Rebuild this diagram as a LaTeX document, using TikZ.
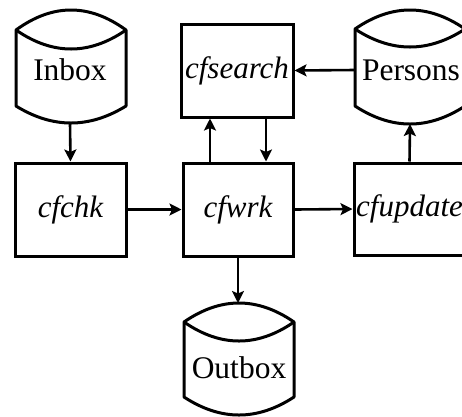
\documentclass[tikz,border=0pt]{standalone}
\usepackage{fontspec}
\setmainfont{Liberation Serif}
\usetikzlibrary{arrows.meta}
\newcommand\drumoutline[7]{% L R T B peak dip bot
  \draw[drumline] (#1,#3) .. controls ({#1+(#2-#1)/3},{#3-4/3*(#3-#5)}) and ({#2-(#2-#1)/3},{#3-4/3*(#3-#5)}) .. (#2,#3)
    -- (#2,#4) .. controls ({#2-(#2-#1)/3},{#4+4/3*(#7-#4)}) and ({#1+(#2-#1)/3},{#4+4/3*(#7-#4)}) .. (#1,#4) -- cycle;
  \draw[drumline] (#1,#3) .. controls ({#1+(#2-#1)/3},{#3+4/3*(#6-#3)}) and ({#2-(#2-#1)/3},{#3+4/3*(#6-#3)}) .. (#2,#3);
}
\begin{document}
\begin{tikzpicture}[x=1pt,y=-1pt,
  drumline/.style={line width=3pt,line join=round},
  proc/.style={draw,line width=3pt,rectangle,inner sep=0pt,font=\fontsize{31}{37}\selectfont\itshape},
  store/.style={inner sep=0pt,font=\fontsize{31.5}{37}\selectfont},
  arr/.style={line width=2.6pt,-{Stealth[length=12pt,width=12pt,inset=2.5pt]}}]
\useasboundingbox (0,0) rectangle (462,416);
% drums
\drumoutline{16}{126}{30}{106}{10}{49}{123}
\drumoutline{355}{465}{29}{106}{10}{47}{124}
\drumoutline{184}{294}{322}{397}{303}{341}{415}
\node[store] (inbox) at (70,70) {Inbox};
\node[store] (persons) at (411,70) {Persons};
\node[store] (outbox) at (239,368) {Outbox};
\coordinate (inbox-b) at (70,123);
\coordinate (persons-l) at (355,70);
\coordinate (persons-b) at (410,124);
\coordinate (outbox-t) at (238,303);
% processes
\node[proc,minimum width=111pt,minimum height=93pt] (cfchk) at (70.5,209.5) {cfchk};
\node[proc,minimum width=110pt,minimum height=93pt] (cfwrk) at (238,209.5) {cfwrk};
\node[proc,minimum width=112pt,minimum height=93pt] (cfsearch) at (237,70.5) {cfsearch};
\node[proc,minimum width=111pt,minimum height=92pt] (cfupdate) at (409.5,209) {cfupdate};
% connectors
\draw[arr] (inbox-b) -- (cfchk.north);
\draw[arr] (cfchk.east) -- (cfwrk.west);
\draw[arr] (cfwrk.east) -- (cfupdate.west);
\draw[arr] (persons-l) -- (cfsearch.east);
\draw[arr] ([xshift=-28pt]cfwrk.north) -- ([xshift=-27pt]cfsearch.south);
\draw[arr] ([xshift=29pt]cfsearch.south) -- ([xshift=28pt]cfwrk.north);
\draw[arr] (cfupdate.north) -- (persons-b);
\draw[arr] (cfwrk.south) -- (outbox-t);
\end{tikzpicture}
\end{document}
